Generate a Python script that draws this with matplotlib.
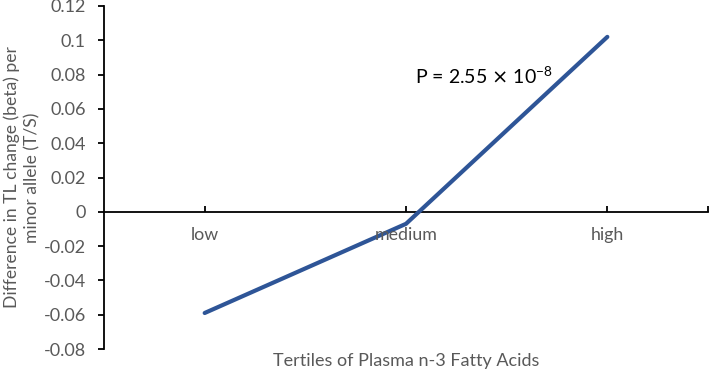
import numpy as np
import matplotlib.pyplot as plt
from matplotlib.ticker import FixedLocator, NullFormatter

# %% data ---------------------------------------------------------------------
categories = ['low', 'medium', 'high']
beta = [-0.059, -0.007, 0.102]
y_ticks = [-0.08, -0.06, -0.04, -0.02, 0, 0.02, 0.04, 0.06, 0.08, 0.1, 0.12]
y_tick_labels = ['-0.08', '-0.06', '-0.04', '-0.02', '0', '0.02', '0.04',
                 '0.06', '0.08', '0.1', '0.12']

# %% style --------------------------------------------------------------------
plt.rcParams['font.family'] = ['Lato', 'DejaVu Sans']
gray = '#595959'
blue = '#2E5597'

fig = plt.figure(figsize=(7.09, 3.75), dpi=100)
ax = fig.add_axes([0.1467, 0.0693, 0.8519, 0.9147])

x = np.arange(len(categories)) + 0.5
ax.plot(x, beta, color=blue, lw=3.0, solid_capstyle='round',
        solid_joinstyle='miter', zorder=3)

ax.set_xlim(0, len(categories))
ax.set_ylim(-0.08, 0.12)

# spines: y axis on the left, x axis through zero
for side in ['top', 'right']:
    ax.spines[side].set_visible(False)
ax.spines['bottom'].set_position(('data', 0))
ax.spines['left'].set_linewidth(1.3)
ax.spines['bottom'].set_linewidth(1.3)

ax.set_yticks(y_ticks)
ax.set_yticklabels(y_tick_labels)
ax.tick_params(axis='y', direction='out', length=4, width=1.3,
               labelsize=13, labelcolor=gray, pad=9)

ax.xaxis.set_major_locator(FixedLocator(list(x) + [len(categories)]))
ax.xaxis.set_major_formatter(NullFormatter())
ax.tick_params(axis='x', direction='in', length=4, width=1.3)
for xi, cat in zip(x, categories):
    ax.annotate(cat, xy=(xi, 0), xycoords='data', xytext=(0, -11),
                textcoords='offset points', ha='center', va='top',
                fontsize=12.8, color=gray)

ax.set_xlabel('Tertiles of Plasma n-3 Fatty Acids', fontsize=13,
              color=gray, va='center')
ax.xaxis.set_label_coords(0.5, -0.035)
ax.set_ylabel('Difference in TL change (beta) per\nminor allele (T/S)',
              fontsize=12.6, color=gray, linespacing=1.35, va='center')
ax.yaxis.set_label_coords(-0.136, 0.5)

ax.text(1.545, 0.079, r'P = 2.55 $\times$ 10$^{\mathregular{-8}}$',
        fontsize=14, color='black', va='center')

fig.savefig('out.png', dpi=100)
